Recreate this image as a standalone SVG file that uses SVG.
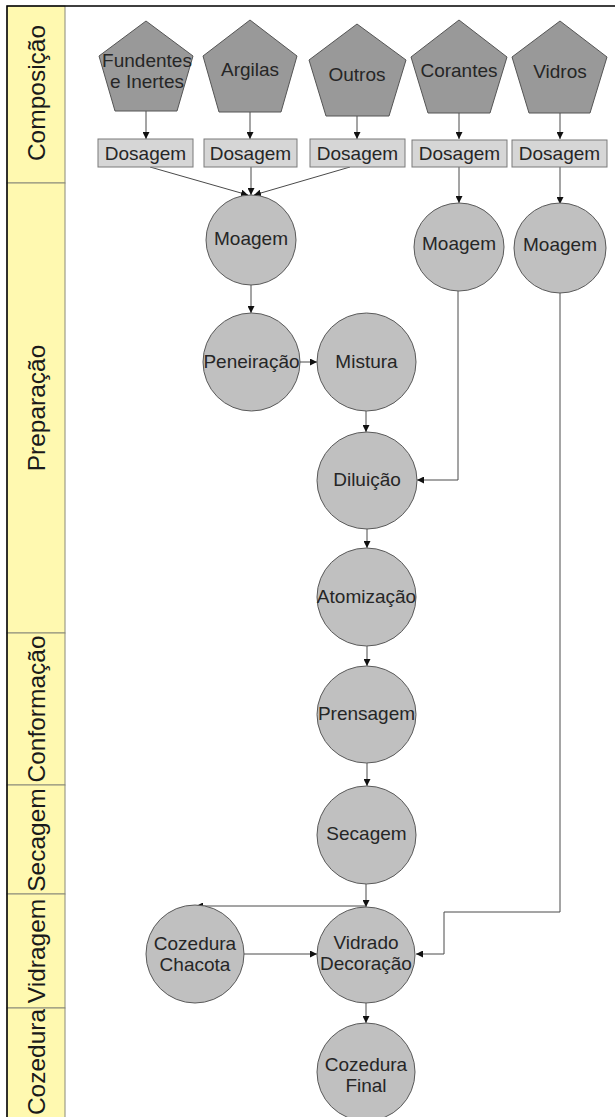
<svg xmlns="http://www.w3.org/2000/svg" width="615" height="1117" viewBox="0 0 615 1117">
  <style>
    .lane { fill: #fff9b0; stroke: #8a8a7a; stroke-width: 1; }
    .lane-label { font-family: "Liberation Sans", Arial, sans-serif; font-size: 24.5px; fill: #1a1a1a; text-anchor: middle; }
    .source { fill: #999999; stroke: #555555; stroke-width: 1; }
    .dose { fill: #d6d6d6; stroke: #7a7a7a; stroke-width: 1; }
    .step { fill: #c0c0c0; stroke: #5a5a5a; stroke-width: 1; }
    .label { font-family: "Liberation Sans", Arial, sans-serif; font-size: 19px; fill: #262626; text-anchor: middle; }
    .edge { fill: none; stroke: #4a4a4a; stroke-width: 1; }
  </style>
  <defs>
    <marker id="arrow" viewBox="0 0 8 8" refX="8" refY="4" markerWidth="7" markerHeight="7" markerUnits="userSpaceOnUse" orient="auto">
      <path d="M0,0 L8,4 L0,8 Z" fill="#111111"/>
    </marker>
  </defs>

  <rect x="0" y="0" width="615" height="1117" fill="#ffffff"/>

  <!-- swimlane column -->
  <g id="lanes">
    <rect class="lane" x="7" y="6" width="58" height="177"/>
    <rect class="lane" x="7" y="183" width="58" height="450"/>
    <rect class="lane" x="7" y="633" width="58" height="152"/>
    <rect class="lane" x="7" y="785" width="58" height="109"/>
    <rect class="lane" x="7" y="894" width="58" height="114"/>
    <rect class="lane" x="7" y="1008" width="58" height="115"/>
    <text class="lane-label" transform="translate(45,93) rotate(-90)">Composição</text>
    <text class="lane-label" transform="translate(45,408) rotate(-90)">Preparação</text>
    <text class="lane-label" transform="translate(45,709) rotate(-90)">Conformação</text>
    <text class="lane-label" transform="translate(45,840) rotate(-90)">Secagem</text>
    <text class="lane-label" transform="translate(45,951) rotate(-90)">Vidragem</text>
    <text class="lane-label" transform="translate(45,1062) rotate(-90)">Cozedura</text>
  </g>

  <!-- outer frame -->
  <path d="M7,1117 V6 H615" fill="none" stroke="#000000" stroke-width="1.5"/>

  <!-- connectors -->
  <g id="connectors">
    <line class="edge" x1="146" y1="111" x2="146" y2="139" marker-end="url(#arrow)"/>
    <line class="edge" x1="250" y1="112" x2="250" y2="139" marker-end="url(#arrow)"/>
    <line class="edge" x1="357" y1="116" x2="357" y2="139" marker-end="url(#arrow)"/>
    <line class="edge" x1="459" y1="113" x2="459" y2="139" marker-end="url(#arrow)"/>
    <line class="edge" x1="560" y1="113" x2="560" y2="139" marker-end="url(#arrow)"/>

    <line class="edge" x1="150" y1="167" x2="248" y2="195" marker-end="url(#arrow)"/>
    <line class="edge" x1="251" y1="167" x2="251" y2="195" marker-end="url(#arrow)"/>
    <line class="edge" x1="350" y1="167" x2="254" y2="195" marker-end="url(#arrow)"/>
    <line class="edge" x1="459" y1="167" x2="459" y2="203" marker-end="url(#arrow)"/>
    <line class="edge" x1="560" y1="167" x2="560" y2="204" marker-end="url(#arrow)"/>

    <line class="edge" x1="251" y1="285" x2="251" y2="313" marker-end="url(#arrow)"/>
    <line class="edge" x1="300" y1="362" x2="317" y2="362" marker-end="url(#arrow)"/>
    <line class="edge" x1="366" y1="411" x2="366" y2="432" marker-end="url(#arrow)"/>
    <path class="edge" d="M458,291 V480 H417" marker-end="url(#arrow)"/>
    <line class="edge" x1="367" y1="529" x2="367" y2="548" marker-end="url(#arrow)"/>
    <line class="edge" x1="367" y1="646" x2="367" y2="666" marker-end="url(#arrow)"/>
    <line class="edge" x1="367" y1="763" x2="367" y2="786" marker-end="url(#arrow)"/>
    <line class="edge" x1="366" y1="884" x2="366" y2="907" marker-end="url(#arrow)"/>
    <path class="edge" d="M366,906 H196" marker-end="url(#arrow)"/>
    <line class="edge" x1="244" y1="954" x2="317" y2="954" marker-end="url(#arrow)"/>
    <path class="edge" d="M560,293 V912 H444 V954 H416" marker-end="url(#arrow)"/>
    <line class="edge" x1="366" y1="1003" x2="366" y2="1023" marker-end="url(#arrow)"/>
  </g>

  <!-- raw material sources -->
  <g id="fundentes">
    <polygon class="source" points="146,21 193,56 177,111 115,111 99,56"/>
    <text class="label" x="147" y="67">Fundentes</text>
    <text class="label" x="147" y="88">e Inertes</text>
  </g>
  <g id="argilas">
    <polygon class="source" points="250,20 297,56 281,112 219,112 203,56"/>
    <text class="label" x="250" y="76">Argilas</text>
  </g>
  <g id="outros">
    <polygon class="source" points="357,24 406,60 389,116 326,116 309,60"/>
    <text class="label" x="357" y="81">Outros</text>
  </g>
  <g id="corantes">
    <polygon class="source" points="459,20 507,57 490,113 428,113 411,57"/>
    <text class="label" x="459" y="77">Corantes</text>
  </g>
  <g id="vidros">
    <polygon class="source" points="560,21 607,57 590,113 529,113 512,57"/>
    <text class="label" x="560" y="78">Vidros</text>
  </g>

  <!-- dosing -->
  <g id="dosagem-1">
    <rect class="dose" x="98" y="139" width="95" height="28"/>
    <text class="label" x="145.5" y="160">Dosagem</text>
  </g>
  <g id="dosagem-2">
    <rect class="dose" x="204" y="139" width="93" height="28"/>
    <text class="label" x="250.5" y="160">Dosagem</text>
  </g>
  <g id="dosagem-3">
    <rect class="dose" x="310" y="139" width="95" height="28"/>
    <text class="label" x="357.5" y="160">Dosagem</text>
  </g>
  <g id="dosagem-4">
    <rect class="dose" x="412" y="140" width="95" height="27"/>
    <text class="label" x="459.5" y="160">Dosagem</text>
  </g>
  <g id="dosagem-5">
    <rect class="dose" x="512" y="140" width="95" height="27"/>
    <text class="label" x="559.5" y="160">Dosagem</text>
  </g>

  <!-- process steps -->
  <g id="moagem-1">
    <ellipse class="step" cx="251" cy="240" rx="45" ry="45"/>
    <text class="label" x="251" y="245">Moagem</text>
  </g>
  <g id="moagem-2">
    <ellipse class="step" cx="459" cy="247" rx="45" ry="44"/>
    <text class="label" x="459" y="250">Moagem</text>
  </g>
  <g id="moagem-3">
    <ellipse class="step" cx="560" cy="248" rx="46" ry="45"/>
    <text class="label" x="560" y="251">Moagem</text>
  </g>
  <g id="peneiracao">
    <ellipse class="step" cx="251.5" cy="362" rx="48.5" ry="49"/>
    <text class="label" x="251.5" y="368">Peneiração</text>
  </g>
  <g id="mistura">
    <ellipse class="step" cx="366.5" cy="362" rx="49.5" ry="49"/>
    <text class="label" x="366.5" y="368">Mistura</text>
  </g>
  <g id="diluicao">
    <ellipse class="step" cx="367" cy="480.5" rx="50" ry="48.5"/>
    <text class="label" x="367" y="486">Diluição</text>
  </g>
  <g id="atomizacao">
    <ellipse class="step" cx="366.5" cy="597" rx="49.5" ry="49"/>
    <text class="label" x="366.5" y="603">Atomização</text>
  </g>
  <g id="prensagem">
    <ellipse class="step" cx="366.5" cy="714.5" rx="49.5" ry="48.5"/>
    <text class="label" x="366.5" y="720">Prensagem</text>
  </g>
  <g id="secagem">
    <ellipse class="step" cx="366.5" cy="835" rx="49.5" ry="49"/>
    <text class="label" x="366.5" y="840">Secagem</text>
  </g>
  <g id="cozedura-chacota">
    <ellipse class="step" cx="195" cy="954" rx="49" ry="49"/>
    <text class="label" x="195" y="950">Cozedura</text>
    <text class="label" x="195" y="971">Chacota</text>
  </g>
  <g id="vidrado-decoracao">
    <ellipse class="step" cx="366" cy="955" rx="49" ry="48"/>
    <text class="label" x="366" y="949">Vidrado</text>
    <text class="label" x="366" y="970">Decoração</text>
  </g>
  <g id="cozedura-final">
    <ellipse class="step" cx="366" cy="1072" rx="49" ry="49"/>
    <text class="label" x="366" y="1071">Cozedura</text>
    <text class="label" x="366" y="1092">Final</text>
  </g>
</svg>
